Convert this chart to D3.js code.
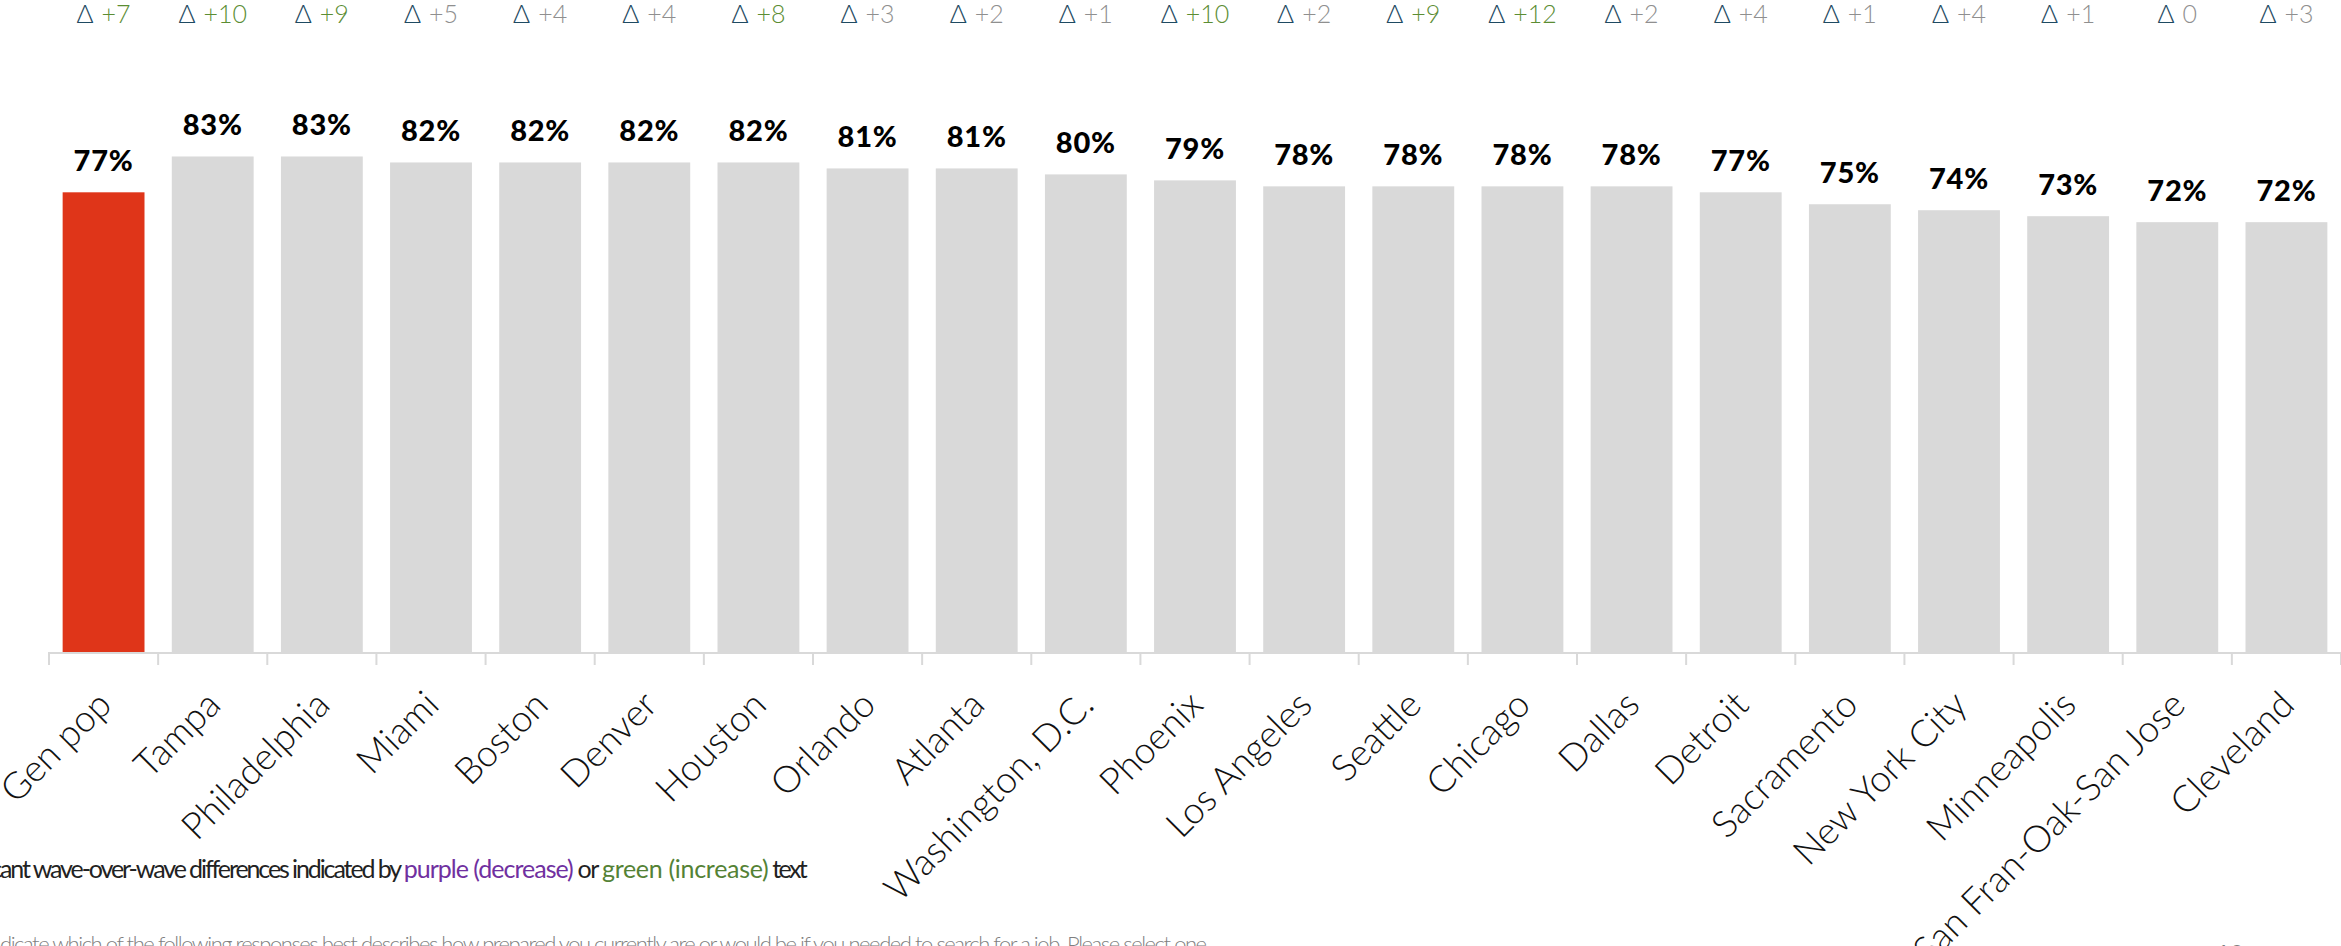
<!DOCTYPE html>
<html>
<head>
<meta charset="utf-8">
<script src="https://cdn.jsdelivr.net/npm/d3@7"></script>
<style>
  html, body { margin: 0; padding: 0; background: #ffffff; overflow: hidden; }
  svg { display: block; }
</style>
</head>
<body>
<svg id="chart" width="2341" height="946"></svg>
<script>
// Share of respondents prepared to search for a job, by market
const categories = ["Gen pop", "Tampa", "Philadelphia", "Miami", "Boston", "Denver", "Houston",
  "Orlando", "Atlanta", "Washington, D.C.", "Phoenix", "Los Angeles", "Seattle", "Chicago",
  "Dallas", "Detroit", "Sacramento", "New York City", "Minneapolis", "San Fran-Oak-San Jose", "Cleveland"];
const values = [77, 83, 83, 82, 82, 82, 82, 81, 81, 80, 79, 78, 78, 78, 78, 77, 75, 74, 73, 72, 72];
// Wave-over-wave change and whether it is significant
const deltas = [7, 10, 9, 5, 4, 4, 8, 3, 2, 1, 10, 2, 9, 12, 2, 4, 1, 4, 1, 0, 3];
const significant = [true, true, true, false, false, false, true, false, false, false, true,
  false, true, true, false, false, false, false, false, false, false];

const svg = d3.select("#chart");
const W = 2341, H = 946;

const x = d3.scaleBand()
  .domain(categories)
  .range([49, W])
  .paddingInner(0.25)
  .paddingOuter(0.125);

const y = d3.scaleLinear().domain([0, 100]).range([652, 55]);

const GREEN = "#5b8d33", GREY_NUM = "#8f8f8f", NAVY = "#1e4a62";

// Bars
svg.append("g").selectAll("rect")
  .data(categories)
  .join("rect")
  .attr("x", d => x(d))
  .attr("width", x.bandwidth())
  .attr("y", (d, i) => y(values[i]))
  .attr("height", (d, i) => y(0) - y(values[i]))
  .attr("fill", (d, i) => i === 0 ? "#df3519" : "#d9d9d9");

// Category axis: baseline with ticks between bands
const step = x.step();
const tickPos = categories.map(d => x(d) - step * x.paddingInner() / 2);
tickPos.push(tickPos[tickPos.length - 1] + step);
const axis = svg.append("g").attr("stroke", "#d9d9d9").attr("stroke-width", 2);
axis.append("line")
  .attr("x1", tickPos[0]).attr("x2", tickPos[tickPos.length - 1])
  .attr("y1", y(0) + 1).attr("y2", y(0) + 1);
axis.selectAll("line.tick")
  .data(tickPos)
  .join("line")
  .attr("class", "tick")
  .attr("x1", d => d).attr("x2", d => d)
  .attr("y1", y(0)).attr("y2", y(0) + 13);

// Rotated category labels
svg.append("g").selectAll("text")
  .data(categories)
  .join("text")
  .attr("transform", d => `translate(${x(d) + x.bandwidth() / 2 + 10},${y(0) + 55}) rotate(-45)`)
  .attr("text-anchor", "end")
  .attr("font-family", "Lato, sans-serif")
  .attr("font-weight", 300)
  .attr("font-size", 37)
  .attr("fill", "#111")
  .text(d => d);

// Value labels above bars
svg.append("g").selectAll("text")
  .data(categories)
  .join("text")
  .attr("x", d => x(d) + x.bandwidth() / 2)
  .attr("y", (d, i) => y(values[i]) - 21)
  .attr("text-anchor", "middle")
  .attr("font-family", "Lato, sans-serif")
  .attr("font-weight", 900)
  .attr("font-size", 29)
  .attr("letter-spacing", 0.8)
  .attr("fill", "#000")
  .text((d, i) => values[i] + "%");

// Change row along the top
const deltaText = svg.append("g").selectAll("text")
  .data(categories)
  .join("text")
  .attr("x", d => x(d) + x.bandwidth() / 2)
  .attr("y", 23)
  .attr("text-anchor", "middle")
  .attr("font-family", "Lato, sans-serif")
  .attr("font-weight", 300)
  .attr("font-size", 25);
deltaText.append("tspan").attr("fill", NAVY).attr("font-size", 26).text("Δ");
deltaText.append("tspan")
  .attr("dx", 8)
  .attr("fill", (d, i) => significant[i] ? GREEN : GREY_NUM)
  .text((d, i) => deltas[i] > 0 ? "+" + deltas[i] : String(deltas[i]));

// Footnote on significance colours
const note = svg.append("text")
  .attr("y", 878)
  .attr("font-family", "Lato, sans-serif")
  .attr("font-size", 25)
  .attr("fill", "#222");
note.append("tspan").attr("letter-spacing", -2.1).text("Significant wave-over-wave differences indicated by ");
note.append("tspan").attr("letter-spacing", -1.0).attr("fill", "#7030a0").text("purple (decrease)");
note.append("tspan").attr("letter-spacing", -1.6).text(" or ");
note.append("tspan").attr("letter-spacing", -0.3).attr("fill", "#548235").text("green (increase)");
note.append("tspan").attr("letter-spacing", -2.6).text(" text");
note.attr("x", -note.node().getSubStringLength(0, 8));

// Question wording
const question = svg.append("text")
  .attr("y", 952)
  .attr("font-family", "Lato, sans-serif")
  .attr("font-weight", 300)
  .attr("font-size", 22)
  .attr("letter-spacing", -1.45)
  .attr("fill", "#7f7f7f")
  .text("Q. Please indicate which of the following responses best describes how prepared you currently are or would be if you needed to search for a job. Please select one.");
question.attr("x", -question.node().getSubStringLength(0, 12));

// Page number
svg.append("text")
  .attr("x", 2216).attr("y", 962)
  .attr("font-family", "Lato, sans-serif")
  .attr("font-size", 24)
  .attr("fill", "#7f7f7f")
  .text("10");
</script>
</body>
</html>
